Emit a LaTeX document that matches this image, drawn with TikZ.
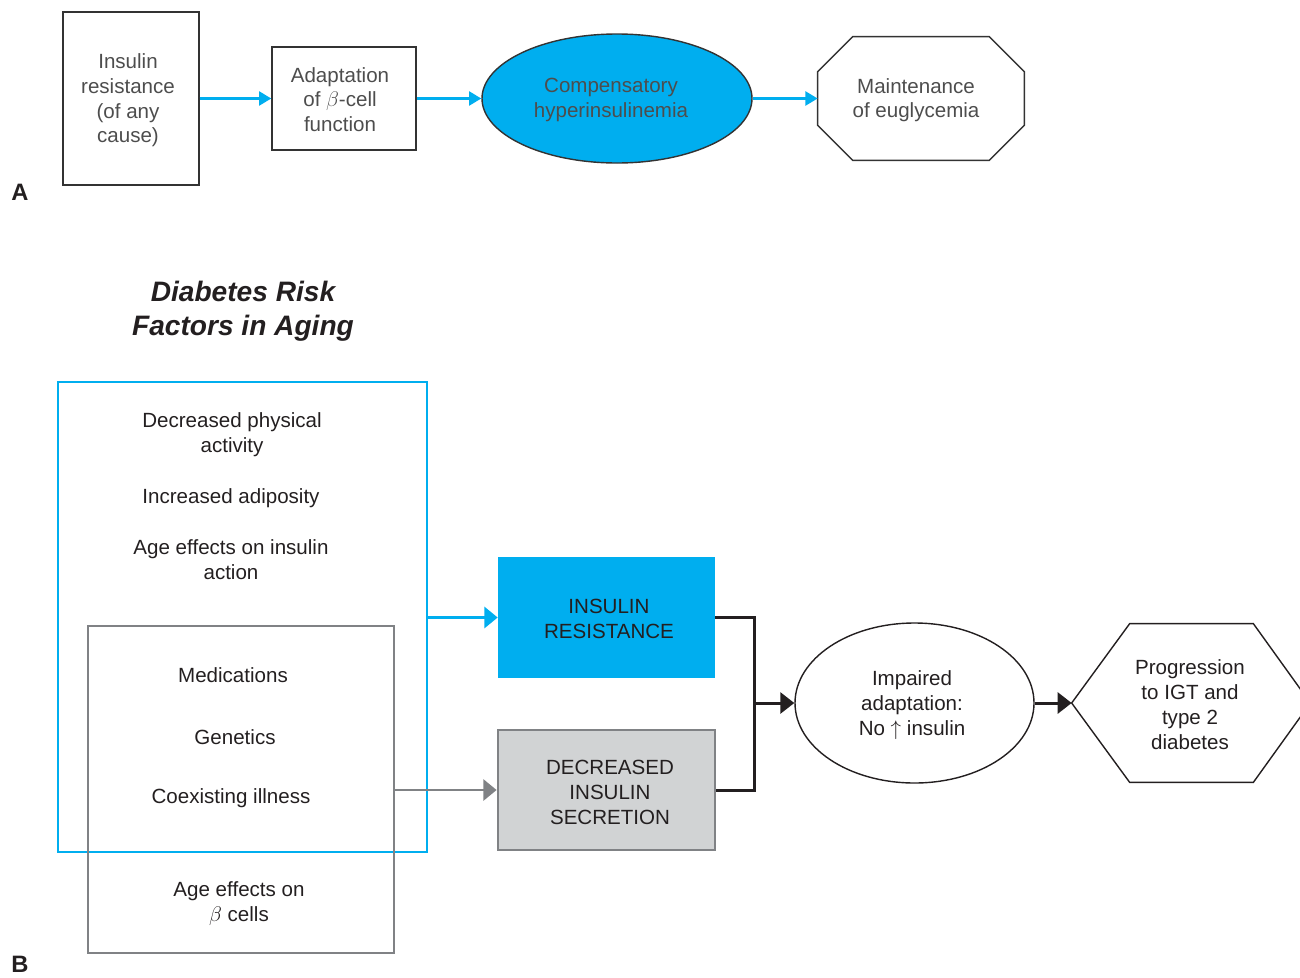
\documentclass[tikz,border=0pt]{standalone}
\usepackage{fontspec}
\setmainfont{Liberation Sans}
\usetikzlibrary{arrows.meta,shapes.geometric,calc}
\definecolor{cy}{HTML}{00AEEF}
\definecolor{textA}{HTML}{4D4D4D}
\definecolor{lineA}{HTML}{333333}
\definecolor{textB}{HTML}{231F20}
\definecolor{grayline}{HTML}{808285}
\definecolor{grayfill}{HTML}{D1D3D4}
\tikzset{
  txtA/.style={font=\fontsize{11.7}{14}\selectfont, text=textA, align=center},
  txtB/.style={font=\fontsize{11.7}{14.2}\selectfont, text=textB, align=center},
  boxA/.style={draw=lineA, line width=0.8pt, inner sep=0pt, txtA},
  arrA/.style={draw=cy, line width=1.4pt, -{Triangle[length=7pt,width=8pt]}},
  arrCy/.style={draw=cy, line width=1.3pt, -{Triangle[length=7.5pt,width=12pt]}},
  arrGr/.style={draw=grayline, line width=1.3pt, -{Triangle[length=7.5pt,width=12pt]}},
  arrBk/.style={draw=textB, line width=1.7pt, -{Triangle[length=8pt,width=12pt]}},
  lbl/.style={font=\fontsize{13.5}{16}\selectfont\bfseries, text=textB}
}
\begin{document}
\begin{tikzpicture}[x=0.02cm,y=-0.02cm]
\useasboundingbox (0,0) rectangle (1300,977);
\clip (0,0) rectangle (1300,977);

% ---------- Part A ----------
\node[boxA, rectangle, minimum width=136*0.02cm, minimum height=173*0.02cm] (a1) at (131,98.5) {};
\node[txtA] (a1t) at (128,100.5) {Insulin\\resistance\\(of any\\cause)};
\node[boxA, rectangle, minimum width=144*0.02cm, minimum height=103*0.02cm] (a2) at (344,98.5) {};
\node[txtA] (a2t) at (340,99.5) {Adaptation\\of $\beta$-cell\\function};
\node[boxA, ellipse, fill=cy, minimum width=270*0.02cm, minimum height=129*0.02cm] (a3) at (617,98.5) {};
\node[txtA] (a3t) at (611,100) {Compensatory\\hyperinsulinemia};
\node[minimum width=206*0.02cm, minimum height=123*0.02cm, inner sep=0pt] (a4) at (921,98.5) {};
\node[txtA] (a4t) at (916,100) {Maintenance\\of euglycemia};
\draw[draw=lineA, line width=0.8pt]
  ($(a4.north west)+(35,0)$) -- ($(a4.north east)+(-35,0)$) -- ($(a4.north east)+(0,35)$)
  -- ($(a4.south east)+(0,-35)$) -- ($(a4.south east)+(-35,0)$) -- ($(a4.south west)+(35,0)$)
  -- ($(a4.south west)+(0,-35)$) -- ($(a4.north west)+(0,35)$) -- cycle;
\draw[arrA] (a1.east) -- (a2.west);
\draw[arrA] (a2.east) -- (a3.west);
\draw[arrA] (a3.east) -- (a4.west);
\node[lbl] (la) at (20,192) {A};

% ---------- Part B ----------
\node[font=\fontsize{16}{19.3}\selectfont\bfseries\itshape, text=textB, align=center] (title) at (243,311)
  {Diabetes Risk\\Factors in Aging};

\node[draw=cy, line width=1.6pt, minimum width=369*0.02cm, minimum height=470*0.02cm, inner sep=0pt] (cybox) at (242.5,617) {};
\node[draw=grayline, line width=1.6pt, minimum width=306*0.02cm, minimum height=327*0.02cm, inner sep=0pt] (grbox) at (241,789.5) {};

\node[txtB] (t1) at (232,435) {Decreased physical\\activity};
\node[txtB] (t2) at (231,498) {Increased adiposity};
\node[txtB] (t3) at (231,560) {Age effects on insulin\\action};
\node[txtB] (t4) at (233,675) {Medications};
\node[txtB] (t5) at (235,737) {Genetics};
\node[txtB] (t6) at (231,798) {Coexisting illness};
\node[txtB] (t7) at (239,904) {Age effects on\\$\beta$ cells};

\node[txtB, fill=cy, minimum width=217*0.02cm, minimum height=121*0.02cm, inner sep=0pt] (ir) at (606.5,617.5) {};
\node[txtB] (irt) at (609,619) {INSULIN\\RESISTANCE};
\node[fill=grayfill, draw=grayline, line width=1.6pt, minimum width=217*0.02cm, minimum height=120*0.02cm, inner sep=0pt] (dis) at (606.5,790) {};
\node[txtB] (dist) at (610,792) {DECREASED\\INSULIN\\SECRETION};

\draw[arrCy] (cybox.east |- ir.west) -- (ir.west);
\draw[arrGr] (grbox.east |- dis.west) -- (dis.west);

\node[draw=textB, line width=0.8pt, ellipse, minimum width=239*0.02cm, minimum height=160*0.02cm, inner sep=0pt] (imp) at (914.5,703) {};
\node[txtB] (impt) at (912,705) {Impaired\\adaptation:\\No $\uparrow$ insulin};
\coordinate (jn) at (754,703);
\draw[draw=textB, line width=1.7pt] (ir.east) -| (jn) |- (dis.east);
\draw[arrBk] (jn) -- (imp.west);

\node[minimum width=238*0.02cm, minimum height=158*0.02cm, inner sep=0pt] (prog) at (1191,703) {};
\node[txtB] (progt) at (1190,705) {Progression\\to IGT and\\type 2\\diabetes};
\draw[draw=textB, line width=0.8pt]
  (prog.west) -- ($(prog.north west)+(58,0)$) -- ($(prog.north east)+(-57,0)$) -- (prog.east)
  -- ($(prog.south east)+(-57,0)$) -- ($(prog.south west)+(58,0)$) -- cycle;
\draw[arrBk] (imp.east) -- (prog.west);

\node[lbl] (lb) at (20,964) {B};
\end{tikzpicture}
\end{document}
